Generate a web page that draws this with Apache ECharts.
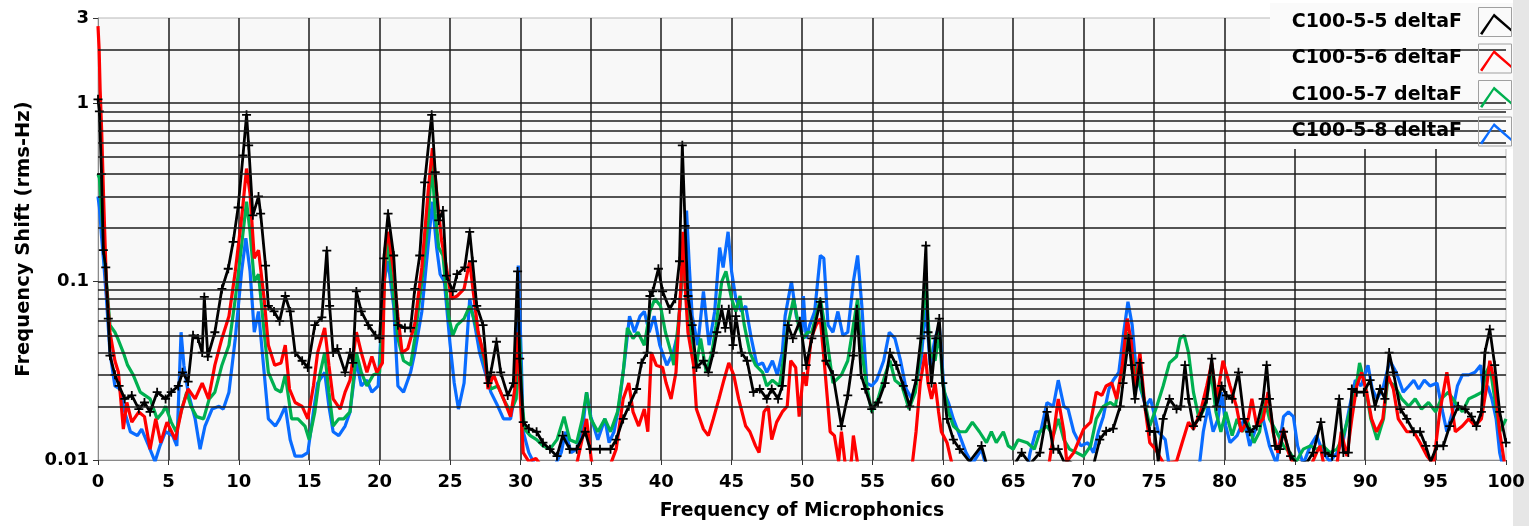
<!DOCTYPE html>
<html>
<head>
<meta charset="utf-8">
<title>Frequency of Microphonics</title>
<script src="https://cdn.jsdelivr.net/npm/echarts@6/dist/echarts.min.js"></script>
<style>
    html, body { margin: 0; padding: 0; background: #fff; }
    #chart { width: 1529px; height: 526px; }
</style>
</head>
<body>
<div id="chart"></div>
<script>
const FONT = 'DejaVu Sans';

const seriesNames = ['C100-5-5 deltaF', 'C100-5-6 deltaF', 'C100-5-7 deltaF', 'C100-5-8 deltaF'];
const seriesColors = ['#000000', '#ff0000', '#00b050', '#0a6cff'];

const xTicks = [0, 100, 5];
const yMinorGrid = [0.02, 0.03, 0.04, 0.05, 0.06, 0.07, 0.08, 0.09, 0.1, 0.2, 0.3, 0.4, 0.5, 0.6, 0.7, 0.8, 0.9, 1, 2];

// [frequency, rms-Hz]
const deltaF55 = [[0,1.05],[0.1,0.9],[0.25,0.4],[0.38,0.15],[0.55,0.12],[0.73,0.062],[0.85,0.0385],[1.2,0.030],[1.5,0.026],[1.9,0.022],[2.4,0.023],[2.9,0.0193],[3.3,0.021],[3.7,0.0186],[4.2,0.024],[4.8,0.022],[5.2,0.024],[5.7,0.026],[6.0,0.031],[6.4,0.0275],[6.75,0.05],[7.1,0.048],[7.4,0.040],[7.55,0.082],[7.8,0.038],[8.3,0.052],[8.8,0.091],[9.25,0.118],[9.6,0.167],[9.95,0.26],[10.3,0.51],[10.55,0.86],[10.7,0.58],[11.0,0.235],[11.4,0.30],[11.55,0.24],[11.9,0.123],[12.1,0.073],[12.5,0.068],[12.9,0.06],[13.3,0.083],[13.65,0.068],[14.0,0.040],[14.5,0.036],[14.9,0.033],[15.4,0.057],[15.9,0.063],[16.25,0.149],[16.45,0.073],[16.7,0.040],[17.0,0.042],[17.55,0.031],[17.9,0.040],[18.1,0.035],[18.35,0.088],[18.7,0.068],[19.2,0.057],[19.7,0.05],[20.0,0.048],[20.3,0.135],[20.6,0.24],[21.0,0.14],[21.3,0.057],[21.8,0.055],[22.2,0.055],[22.5,0.091],[22.85,0.14],[23.2,0.36],[23.7,0.86],[23.95,0.41],[24.2,0.22],[24.5,0.25],[24.75,0.108],[25.2,0.088],[25.5,0.11],[26.05,0.12],[26.4,0.19],[26.6,0.13],[26.9,0.073],[27.35,0.057],[27.7,0.027],[27.9,0.031],[28.3,0.046],[28.6,0.031],[29.1,0.023],[29.5,0.027],[29.8,0.114],[29.95,0.037],[30.2,0.0163],[30.6,0.015],[31.15,0.0144],[31.6,0.0125],[32.1,0.0115],[32.6,0.0105],[33.0,0.0137],[33.5,0.0115],[34.0,0.0115],[34.6,0.0144],[34.95,0.0115],[35.65,0.0115],[36.4,0.0115],[36.8,0.013],[37.3,0.017],[37.7,0.02],[38.25,0.025],[38.6,0.035],[39.0,0.040],[39.2,0.083],[39.4,0.088],[39.8,0.118],[40.1,0.088],[40.6,0.070],[41.0,0.08],[41.3,0.13],[41.5,0.58],[41.7,0.205],[41.9,0.083],[42.2,0.057],[42.5,0.033],[43.0,0.036],[43.35,0.031],[43.7,0.04],[43.95,0.052],[44.3,0.07],[44.55,0.055],[44.8,0.07],[45.1,0.044],[45.3,0.064],[45.7,0.040],[46.1,0.036],[46.55,0.024],[47.0,0.025],[47.5,0.022],[47.85,0.025],[48.3,0.022],[48.6,0.026],[49.0,0.057],[49.35,0.048],[49.85,0.06],[50.3,0.034],[50.7,0.048],[51.3,0.077],[51.7,0.036],[52.2,0.030],[52.8,0.0155],[53.25,0.023],[53.65,0.0385],[53.9,0.070],[54.2,0.03],[54.5,0.025],[54.95,0.0193],[55.4,0.021],[55.9,0.027],[56.25,0.040],[56.7,0.034],[57.2,0.026],[57.65,0.02],[58.1,0.028],[58.45,0.048],[58.8,0.159],[58.95,0.052],[59.2,0.027],[59.5,0.048],[59.75,0.062],[60.0,0.027],[60.3,0.017],[60.75,0.013],[61.2,0.0115],[61.9,0.0098],[62.75,0.012],[63.1,0.0095],[64.0,0.009],[65.0,0.0092],[65.6,0.011],[66.2,0.0095],[66.9,0.011],[67.4,0.0186],[67.85,0.0115],[68.2,0.0115],[68.6,0.0098],[69.0,0.0098],[69.7,0.009],[70.65,0.009],[71.15,0.013],[71.6,0.0145],[72.1,0.015],[72.6,0.02],[72.8,0.027],[73.2,0.048],[73.4,0.034],[73.65,0.022],[74.0,0.035],[74.35,0.02],[74.7,0.0145],[75.05,0.0144],[75.3,0.0098],[75.65,0.017],[76.1,0.022],[76.6,0.0193],[76.9,0.02],[77.2,0.034],[77.45,0.022],[77.8,0.0155],[78.3,0.0175],[78.75,0.022],[79.1,0.037],[79.45,0.02],[79.8,0.026],[80.15,0.023],[80.55,0.022],[81.0,0.031],[81.4,0.017],[81.8,0.0144],[82.3,0.0155],[82.75,0.022],[83.0,0.034],[83.2,0.022],[83.6,0.012],[83.95,0.0115],[84.2,0.0144],[84.7,0.0105],[85.2,0.0095],[85.9,0.0098],[86.3,0.011],[86.85,0.0163],[87.15,0.011],[87.65,0.0105],[88.15,0.022],[88.45,0.011],[88.8,0.011],[89.05,0.025],[89.4,0.024],[89.9,0.024],[90.35,0.028],[90.7,0.02],[91.05,0.025],[91.4,0.022],[91.7,0.040],[92.0,0.031],[92.5,0.0193],[92.95,0.017],[93.45,0.0144],[93.9,0.0144],[94.3,0.012],[94.65,0.0098],[95.1,0.012],[95.55,0.012],[96.0,0.0155],[96.6,0.02],[97.1,0.0193],[97.55,0.0175],[97.9,0.0155],[98.25,0.0186],[98.5,0.04],[98.85,0.054],[99.2,0.034],[99.55,0.0186],[100,0.0125]];

const deltaF56 = [[0,2.7],[0.08,2.0],[0.15,1.2],[0.26,0.7],[0.4,0.29],[0.6,0.095],[0.85,0.052],[1.2,0.036],[1.45,0.031],[1.8,0.0149],[2.05,0.021],[2.4,0.0163],[2.9,0.0186],[3.3,0.0175],[3.7,0.0115],[4.1,0.017],[4.45,0.0125],[4.9,0.0163],[5.5,0.013],[5.95,0.0193],[6.4,0.025],[6.9,0.022],[7.4,0.027],[7.85,0.022],[8.3,0.034],[8.8,0.048],[9.3,0.064],[9.75,0.114],[10.2,0.227],[10.55,0.43],[10.8,0.31],[11.1,0.135],[11.4,0.15],[11.8,0.08],[12.1,0.044],[12.55,0.034],[13.0,0.035],[13.3,0.044],[13.6,0.025],[14.0,0.021],[14.5,0.02],[14.9,0.017],[15.3,0.026],[15.6,0.040],[16.1,0.055],[16.4,0.034],[16.7,0.022],[17.2,0.0193],[17.55,0.024],[17.9,0.028],[18.35,0.052],[18.7,0.040],[19.1,0.031],[19.45,0.038],[19.8,0.031],[20.2,0.035],[20.4,0.153],[20.6,0.19],[21.0,0.114],[21.3,0.064],[21.6,0.040],[22.0,0.042],[22.5,0.058],[23.0,0.12],[23.45,0.32],[23.75,0.56],[24.05,0.32],[24.4,0.17],[24.75,0.12],[25.1,0.08],[25.5,0.083],[26.0,0.091],[26.4,0.13],[26.6,0.095],[27.0,0.052],[27.5,0.036],[27.7,0.025],[28.1,0.030],[28.4,0.026],[28.8,0.022],[29.3,0.0175],[29.6,0.025],[29.8,0.052],[30.0,0.022],[30.2,0.011],[30.6,0.0098],[31.1,0.0102],[31.6,0.009],[32.5,0.0085],[33.5,0.009],[34.0,0.0095],[34.7,0.017],[35.05,0.0098],[35.4,0.009],[36.3,0.009],[36.8,0.0115],[37.3,0.022],[37.7,0.027],[38.0,0.0186],[38.4,0.0155],[38.8,0.0193],[39.05,0.0144],[39.3,0.040],[39.65,0.034],[40.1,0.033],[40.35,0.027],[40.7,0.022],[41.05,0.031],[41.4,0.095],[41.55,0.19],[41.7,0.095],[41.9,0.052],[42.3,0.034],[42.5,0.0193],[43.0,0.0149],[43.35,0.0137],[43.7,0.017],[44.1,0.022],[44.45,0.028],[44.8,0.035],[45.15,0.030],[45.5,0.022],[46.0,0.0155],[46.3,0.0144],[46.7,0.012],[46.95,0.011],[47.3,0.0186],[47.6,0.02],[47.85,0.013],[48.2,0.0163],[48.6,0.0186],[48.95,0.02],[49.2,0.036],[49.55,0.033],[49.8,0.0175],[50.1,0.031],[50.3,0.026],[50.65,0.048],[51.0,0.057],[51.3,0.062],[51.6,0.034],[52.0,0.0144],[52.3,0.0137],[52.6,0.0098],[52.8,0.0144],[53.1,0.009],[53.5,0.0098],[53.65,0.0137],[54.0,0.009],[55,0.0085],[57,0.0085],[57.8,0.009],[58.1,0.0144],[58.4,0.027],[58.75,0.040],[58.95,0.027],[59.2,0.022],[59.45,0.027],[59.7,0.0186],[59.9,0.0144],[60.3,0.0125],[60.65,0.0095],[61.5,0.0085],[64,0.0085],[67.5,0.009],[67.85,0.0137],[68.2,0.022],[68.6,0.0144],[68.8,0.0098],[69.3,0.011],[70.0,0.0149],[70.5,0.0163],[70.9,0.024],[71.3,0.023],[71.6,0.026],[72.0,0.027],[72.35,0.022],[72.75,0.034],[73.1,0.062],[73.4,0.045],[73.65,0.024],[74.0,0.040],[74.35,0.02],[74.7,0.0125],[75.1,0.0115],[75.7,0.0095],[76.6,0.0098],[77.0,0.0125],[77.45,0.0163],[77.8,0.0149],[78.3,0.0186],[78.75,0.026],[79.1,0.035],[79.45,0.022],[79.9,0.036],[80.4,0.026],[80.85,0.02],[81.2,0.0144],[81.7,0.017],[81.95,0.022],[82.3,0.0155],[82.75,0.017],[83.1,0.024],[83.45,0.0144],[83.8,0.011],[84.2,0.0149],[84.55,0.011],[84.9,0.0095],[86.2,0.0095],[86.55,0.011],[86.8,0.012],[87.05,0.0095],[88.0,0.0095],[88.3,0.0144],[88.7,0.0105],[89.05,0.017],[89.4,0.026],[89.75,0.031],[90.1,0.024],[90.45,0.017],[90.8,0.0144],[91.25,0.017],[91.6,0.030],[92.0,0.025],[92.35,0.017],[92.95,0.0144],[93.45,0.0144],[93.9,0.0125],[94.4,0.0105],[94.85,0.0095],[95.3,0.0186],[95.8,0.031],[96.15,0.02],[96.4,0.0144],[96.9,0.0155],[97.35,0.017],[97.8,0.0155],[98.25,0.017],[98.6,0.025],[98.85,0.036],[99.2,0.027],[99.55,0.0144],[99.9,0.0095]];

const deltaF57 = [[0,0.4],[0.1,0.38],[0.25,0.25],[0.4,0.175],[0.6,0.1],[0.85,0.057],[1.2,0.052],[1.4,0.048],[1.8,0.040],[2.1,0.034],[2.5,0.030],[3.0,0.024],[3.7,0.022],[4.2,0.017],[4.6,0.0186],[4.8,0.02],[5.2,0.0163],[5.55,0.0144],[5.9,0.0186],[6.3,0.024],[6.6,0.02],[7.0,0.0175],[7.5,0.017],[7.9,0.022],[8.3,0.024],[8.8,0.034],[9.3,0.044],[9.75,0.08],[10.2,0.16],[10.55,0.28],[10.8,0.19],[11.1,0.1],[11.4,0.11],[11.8,0.052],[12.1,0.031],[12.6,0.025],[13.0,0.024],[13.3,0.03],[13.75,0.017],[14.2,0.017],[14.7,0.0155],[15.0,0.013],[15.4,0.0186],[15.75,0.030],[16.1,0.040],[16.4,0.024],[16.7,0.0155],[17.1,0.017],[17.45,0.017],[17.9,0.0186],[18.35,0.040],[18.7,0.031],[19.1,0.026],[19.55,0.030],[20.0,0.031],[20.4,0.12],[20.6,0.167],[21.0,0.08],[21.3,0.048],[21.7,0.036],[22.2,0.034],[22.5,0.048],[23.0,0.1],[23.45,0.22],[23.7,0.47],[23.95,0.24],[24.2,0.155],[24.5,0.14],[24.9,0.064],[25.2,0.05],[25.5,0.057],[26.0,0.062],[26.4,0.073],[26.7,0.062],[27.1,0.048],[27.5,0.034],[27.9,0.025],[28.4,0.026],[28.8,0.022],[29.3,0.0186],[29.7,0.022],[29.95,0.048],[30.1,0.022],[30.3,0.0149],[30.7,0.0137],[31.15,0.013],[31.6,0.012],[32.1,0.0115],[32.6,0.013],[33.1,0.0175],[33.5,0.013],[34.0,0.0125],[34.4,0.017],[34.7,0.024],[35.0,0.017],[35.5,0.0144],[36.0,0.017],[36.4,0.0144],[36.9,0.0186],[37.3,0.031],[37.6,0.055],[38.0,0.048],[38.35,0.052],[38.8,0.044],[39.2,0.068],[39.55,0.08],[39.95,0.073],[40.3,0.052],[40.7,0.040],[40.9,0.034],[41.3,0.068],[41.55,0.135],[41.8,0.08],[42.1,0.052],[42.5,0.034],[42.8,0.048],[43.2,0.031],[43.6,0.040],[43.9,0.057],[44.3,0.1],[44.6,0.114],[45.0,0.08],[45.3,0.068],[45.6,0.083],[45.9,0.057],[46.3,0.040],[46.7,0.034],[47.2,0.031],[47.5,0.026],[47.9,0.028],[48.4,0.026],[48.75,0.040],[49.0,0.057],[49.4,0.08],[49.75,0.057],[50.1,0.048],[50.4,0.052],[50.7,0.052],[51.3,0.08],[51.7,0.052],[52.2,0.027],[52.8,0.030],[53.25,0.036],[53.65,0.057],[53.95,0.08],[54.25,0.040],[54.6,0.026],[54.95,0.0186],[55.4,0.022],[55.9,0.030],[56.25,0.036],[56.6,0.028],[57.1,0.026],[57.6,0.0193],[58.05,0.024],[58.4,0.040],[58.8,0.1],[59.1,0.040],[59.45,0.036],[59.75,0.052],[60.0,0.027],[60.4,0.0186],[60.75,0.0155],[61.2,0.0144],[61.65,0.0144],[62.1,0.0163],[62.6,0.0144],[63.1,0.0125],[63.45,0.0144],[63.8,0.0125],[64.3,0.0144],[64.65,0.012],[65.0,0.0115],[65.35,0.013],[66.0,0.0125],[66.5,0.0115],[66.9,0.0144],[67.4,0.0155],[67.85,0.0137],[68.2,0.017],[68.6,0.013],[69.0,0.0115],[69.5,0.011],[70.0,0.0105],[70.5,0.012],[70.9,0.017],[71.4,0.02],[71.9,0.021],[72.25,0.02],[72.6,0.028],[73.0,0.040],[73.2,0.052],[73.6,0.034],[73.95,0.027],[74.3,0.022],[74.7,0.0155],[75.2,0.02],[75.65,0.026],[76.1,0.035],[76.6,0.038],[76.85,0.048],[77.15,0.05],[77.45,0.040],[77.8,0.024],[78.2,0.017],[78.65,0.02],[79.05,0.031],[79.4,0.0186],[79.75,0.0144],[80.1,0.0186],[80.55,0.0137],[80.9,0.017],[81.3,0.0144],[81.6,0.017],[82.1,0.0125],[82.5,0.0144],[82.85,0.022],[83.2,0.017],[83.7,0.0144],[84.2,0.012],[84.65,0.011],[85.1,0.0098],[85.6,0.0115],[86.1,0.012],[86.55,0.0115],[87.0,0.012],[87.5,0.011],[88.0,0.0115],[88.45,0.0137],[88.9,0.0186],[89.3,0.024],[89.6,0.035],[90.0,0.026],[90.4,0.017],[90.85,0.013],[91.3,0.017],[91.6,0.028],[92.1,0.026],[92.6,0.022],[93.1,0.02],[93.55,0.022],[94.0,0.0193],[94.5,0.021],[95.0,0.0186],[95.4,0.022],[95.9,0.024],[96.4,0.021],[96.9,0.0186],[97.35,0.022],[97.85,0.023],[98.3,0.024],[98.6,0.031],[98.85,0.034],[99.2,0.022],[99.55,0.0144],[99.9,0.0163],[100,0.017]];

const deltaF58 = [[0,0.3],[0.1,0.26],[0.25,0.18],[0.4,0.13],[0.6,0.08],[0.85,0.040],[1.2,0.026],[1.55,0.025],[1.9,0.0186],[2.3,0.0144],[2.8,0.0137],[3.1,0.0149],[3.6,0.012],[4.05,0.0098],[4.4,0.012],[4.8,0.0144],[5.3,0.0137],[5.6,0.012],[5.9,0.052],[6.1,0.034],[6.4,0.024],[6.9,0.017],[7.25,0.0115],[7.6,0.0155],[8.1,0.0193],[8.6,0.02],[8.9,0.0193],[9.3,0.024],[9.75,0.048],[10.2,0.114],[10.5,0.175],[10.8,0.114],[11.1,0.052],[11.4,0.068],[11.8,0.031],[12.1,0.017],[12.6,0.0155],[12.9,0.017],[13.3,0.02],[13.65,0.013],[14.0,0.0105],[14.5,0.0105],[14.9,0.011],[15.3,0.0186],[15.6,0.027],[16.1,0.031],[16.4,0.02],[16.7,0.0144],[17.1,0.0137],[17.55,0.0155],[17.9,0.0186],[18.35,0.036],[18.7,0.026],[19.1,0.028],[19.45,0.024],[19.9,0.026],[20.3,0.1],[20.6,0.13],[21.0,0.073],[21.3,0.026],[21.7,0.024],[22.2,0.031],[22.5,0.040],[23.0,0.068],[23.45,0.16],[23.75,0.28],[24.05,0.155],[24.3,0.11],[24.6,0.1],[25.0,0.045],[25.3,0.027],[25.6,0.0193],[26.0,0.027],[26.4,0.08],[26.8,0.055],[27.1,0.040],[27.5,0.031],[27.9,0.024],[28.4,0.02],[28.8,0.017],[29.3,0.017],[29.65,0.024],[29.85,0.123],[30.05,0.040],[30.2,0.0144],[30.6,0.011],[31.0,0.0095],[32.5,0.0095],[32.9,0.011],[33.2,0.0144],[33.6,0.011],[34.0,0.0115],[34.4,0.0144],[34.7,0.024],[35.0,0.0175],[35.5,0.013],[36.0,0.017],[36.3,0.0125],[36.65,0.0144],[37.0,0.02],[37.4,0.036],[37.75,0.064],[38.1,0.052],[38.5,0.064],[38.8,0.068],[39.15,0.052],[39.5,0.064],[39.9,0.044],[40.4,0.034],[40.85,0.040],[41.2,0.052],[41.45,0.1],[41.8,0.25],[42.0,0.12],[42.2,0.064],[42.6,0.044],[43.0,0.088],[43.4,0.044],[43.8,0.068],[44.15,0.155],[44.4,0.12],[44.75,0.19],[45.0,0.114],[45.3,0.08],[45.7,0.068],[46.0,0.073],[46.4,0.048],[46.8,0.034],[47.2,0.035],[47.5,0.031],[47.9,0.036],[48.25,0.030],[48.6,0.040],[48.8,0.064],[49.25,0.1],[49.6,0.064],[50.0,0.052],[50.1,0.083],[50.3,0.048],[50.55,0.057],[50.9,0.068],[51.3,0.14],[51.55,0.135],[51.85,0.057],[52.2,0.052],[52.55,0.068],[52.9,0.05],[53.25,0.052],[53.65,0.1],[53.95,0.14],[54.25,0.073],[54.6,0.027],[54.95,0.026],[55.3,0.028],[55.8,0.036],[56.2,0.052],[56.6,0.048],[57.0,0.036],[57.4,0.025],[57.8,0.022],[58.1,0.027],[58.45,0.036],[58.8,0.073],[59.1,0.034],[59.45,0.048],[59.75,0.057],[60.1,0.024],[60.4,0.021],[60.75,0.017],[61.2,0.0137],[61.65,0.011],[62.1,0.0095],[62.75,0.0115],[63.1,0.009],[66.0,0.009],[66.2,0.011],[66.6,0.0144],[66.95,0.0144],[67.4,0.021],[67.85,0.02],[68.2,0.028],[68.6,0.02],[68.9,0.0193],[69.3,0.0144],[69.8,0.012],[70.3,0.0125],[70.7,0.011],[71.05,0.0144],[71.4,0.0175],[71.8,0.025],[72.1,0.028],[72.5,0.031],[72.85,0.052],[73.15,0.077],[73.45,0.057],[73.7,0.034],[74.0,0.026],[74.4,0.02],[74.75,0.022],[75.1,0.017],[75.3,0.0144],[75.8,0.013],[76.1,0.009],[78.2,0.009],[78.5,0.0144],[78.85,0.02],[79.2,0.0144],[79.55,0.017],[79.8,0.024],[80.1,0.0155],[80.4,0.0125],[80.9,0.0137],[81.4,0.017],[81.8,0.012],[82.3,0.0155],[82.75,0.017],[83.2,0.012],[83.7,0.0095],[84.2,0.0175],[84.55,0.0186],[84.9,0.0175],[85.2,0.012],[85.6,0.0095],[86.1,0.012],[86.55,0.0137],[87.0,0.011],[87.5,0.0098],[88.0,0.011],[88.45,0.013],[88.9,0.02],[89.3,0.028],[89.7,0.026],[90.2,0.034],[90.5,0.025],[90.85,0.022],[91.3,0.026],[91.75,0.036],[92.2,0.031],[92.7,0.024],[93.1,0.026],[93.45,0.028],[93.8,0.025],[94.2,0.028],[94.6,0.026],[95.1,0.027],[95.5,0.0186],[95.8,0.0144],[96.2,0.0186],[96.55,0.026],[96.9,0.030],[97.35,0.030],[97.8,0.031],[98.2,0.034],[98.4,0.024],[98.7,0.026],[99.0,0.022],[99.3,0.017],[99.55,0.011],[99.8,0.009]];

const seriesData = [deltaF55, deltaF56, deltaF57, deltaF58];

// caret icon; the two empty subpaths pad the bounding box so the caret sits inside the legend square
const CARET_ICON = 'path://M0,0Z M33,29Z M2,26 L16,6 L33,21 L33,24 L16,9.5 L4.2,27.6 Z';
const PLUS_SYMBOL = 'path://M4,0h2v4h4v2h-4v4h-2v-4h-4v-2h4z';

function formatLogLabel(value) {
    return String(parseFloat(Number(value).toPrecision(2)));
}

function buildSeries() {
    // draw blue first so the black trace ends up on top
    const order = [3, 2, 1, 0];
    const lines = order.map(i => ({
        name: seriesNames[i],
        type: 'line',
        data: seriesData[i],
        color: seriesColors[i],
        lineStyle: { width: i === 0 ? 2.8 : 3.2, color: seriesColors[i] },
        symbol: i === 0 ? PLUS_SYMBOL : 'none',
        symbolSize: 9,
        showSymbol: i === 0,
        showAllSymbol: true,
        itemStyle: { color: seriesColors[i] },
        clip: true,
        silent: true,
        z: 3
    }));

    // horizontal log grid lines
    lines.unshift({
        name: 'grid',
        type: 'line',
        data: [],
        silent: true,
        z: 1,
        markLine: {
            silent: true,
            symbol: ['none', 'none'],
            label: { show: false },
            animation: false,
            lineStyle: { color: '#1c1c1c', width: 1.5, type: 'solid' },
            data: yMinorGrid.map(v => ({ yAxis: v }))
        }
    });
    return lines;
}

function buildGraphics() {
    const boxes = seriesNames.map((name, idx) => ({
        type: 'rect',
        shape: { x: 1478.5, y: 7.5 + idx * 36.5, width: 33, height: 29 },
        style: { fill: null, stroke: '#a0a0a0', lineWidth: 1 },
        z: 7
    }));
    return [
        { type: 'rect', shape: { x: 1513, y: 0, width: 16, height: 526 }, style: { fill: '#e6e6e6' }, z: -1 },
        { type: 'rect', shape: { x: 1270, y: 3, width: 243, height: 146 }, style: { fill: '#fafafa' }, z: 3 },
        ...boxes
    ];
}

function initChart() {
    const chart = echarts.init(document.getElementById('chart'), null, { renderer: 'canvas' });
    const splitColors = [];
    for (let v = xTicks[0]; v <= xTicks[1]; v += xTicks[2]) {
        splitColors.push(v === xTicks[0] || v === xTicks[1] ? 'rgba(0,0,0,0)' : '#1c1c1c');
    }

    chart.setOption({
        animation: false,
        backgroundColor: '#ffffff',
        textStyle: { fontFamily: FONT, color: '#000' },
        grid: {
            left: 98,
            right: 23,
            top: 18,
            bottom: 65,
            show: true,
            backgroundColor: '#f8f8f8',
            borderColor: '#b8b8b8',
            borderWidth: 1
        },
        legend: {
            data: seriesNames,
            orient: 'vertical',
            right: 18,
            top: 7.5,
            align: 'right',
            padding: 0,
            itemWidth: 33,
            itemHeight: 29,
            itemGap: 7.5,
            icon: CARET_ICON,
            selectedMode: false,
            z: 6,
            textStyle: {
                fontFamily: FONT,
                fontSize: 19,
                fontWeight: 'bold',
                color: '#000',
                padding: [0, 11, 0, 0]
            }
        },
        graphic: buildGraphics(),
        xAxis: {
            type: 'value',
            min: xTicks[0],
            max: xTicks[1],
            interval: xTicks[2],
            name: 'Frequency of Microphonics',
            nameLocation: 'middle',
            nameGap: 42,
            nameTextStyle: { fontFamily: FONT, fontSize: 18.8, fontWeight: 'bold', color: '#000' },
            axisLine: { show: true, lineStyle: { color: '#8a8a8a', width: 1 } },
            axisTick: { show: true, length: 5, lineStyle: { color: '#333', width: 1 } },
            axisLabel: { fontFamily: FONT, fontSize: 18, fontWeight: 'bold', color: '#000', margin: 13 },
            splitLine: { show: true, lineStyle: { color: splitColors, width: 1.5 } }
        },
        yAxis: {
            type: 'log',
            logBase: 10,
            min: 0.01,
            max: 3,
            name: 'Frequency Shift (rms-Hz)',
            nameLocation: 'middle',
            nameGap: 63,
            nameTextStyle: { fontFamily: FONT, fontSize: 19.5, fontWeight: 'bold', color: '#000' },
            axisLine: { show: true, lineStyle: { color: '#8a8a8a', width: 1 } },
            axisTick: { show: true, length: 5, lineStyle: { color: '#333', width: 1 } },
            axisLabel: {
                fontFamily: FONT,
                fontSize: 18,
                fontWeight: 'bold',
                color: '#000',
                margin: 9,
                formatter: formatLogLabel
            },
            splitLine: { show: false }
        },
        series: buildSeries()
    });
    return chart;
}

document.addEventListener('DOMContentLoaded', () => {
    initChart();
});
</script>
</body>
</html>
